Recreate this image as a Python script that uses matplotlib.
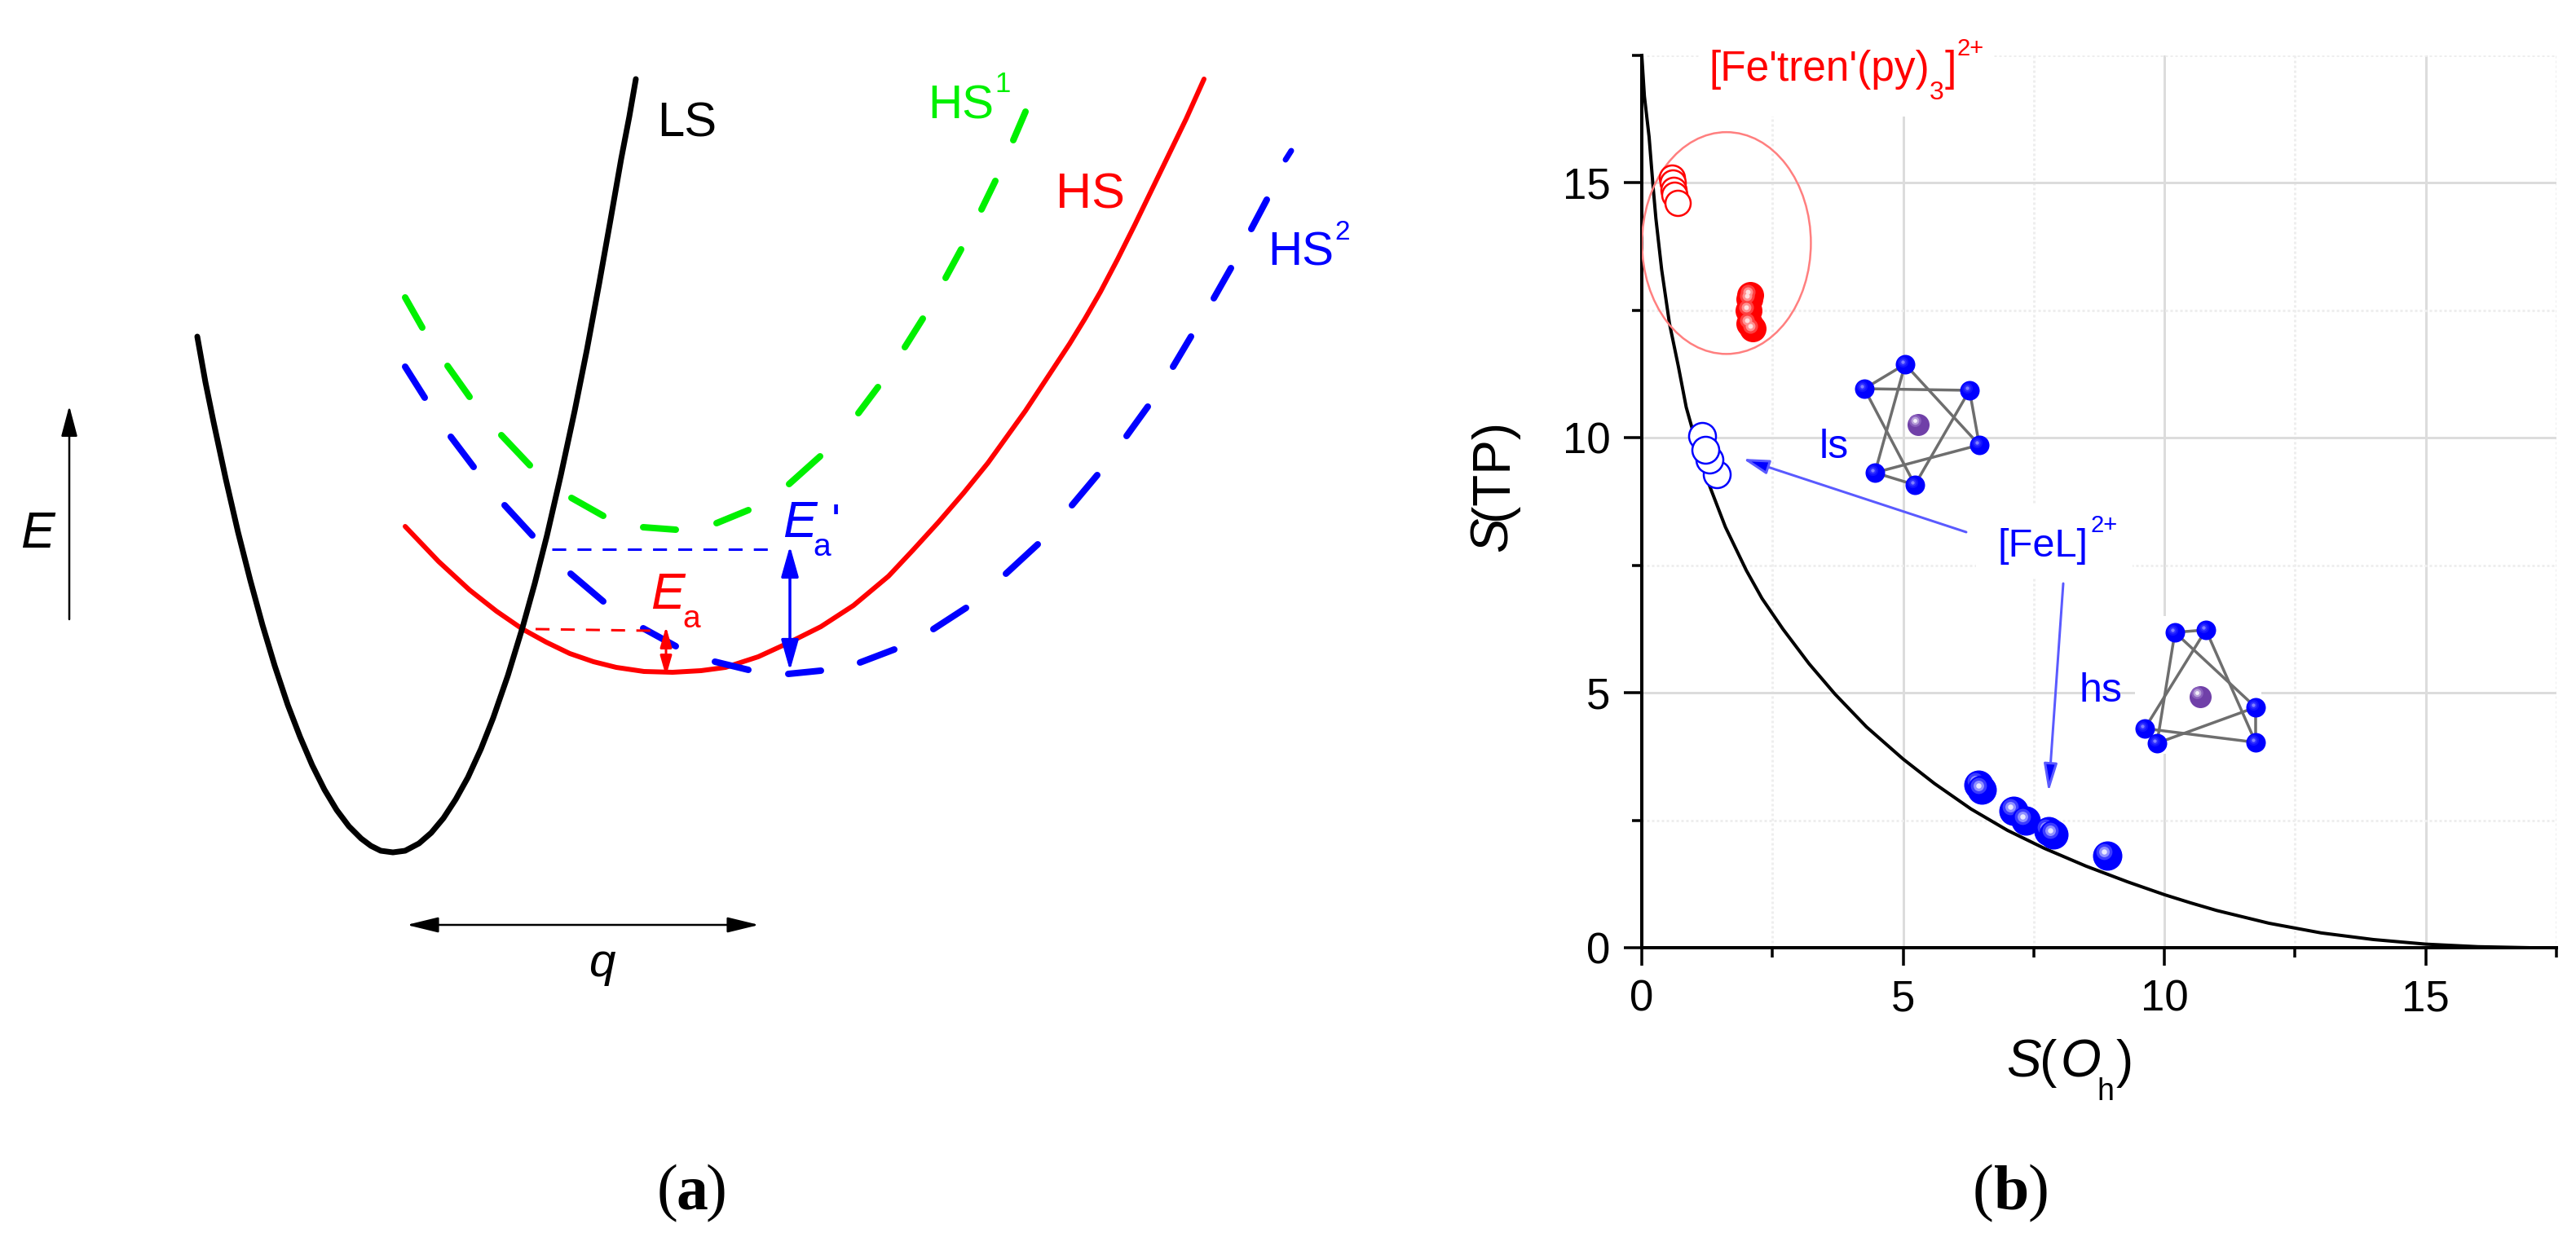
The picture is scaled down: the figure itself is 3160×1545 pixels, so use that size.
#!/usr/bin/env python3
# potential energy sketch (a) and shape map S(TP) vs S(Oh) (b)
import matplotlib
matplotlib.use('Agg')
import matplotlib.pyplot as plt
from matplotlib.patches import Ellipse, Rectangle

plt.rcParams['font.family'] = ['Liberation Sans', 'DejaVu Sans']

ls_x = [242, 252, 262, 277, 292, 307, 322, 337, 353, 368, 383, 398, 413, 428, 443, 455, 467, 482,
        497, 514, 529, 544, 559, 574, 590, 605, 623, 641, 656, 671, 688, 705, 720, 735, 748, 762, 772, 780]
ls_y = [413, 469, 518, 588, 653, 712, 767, 817, 865, 904, 939, 969, 994, 1014, 1029, 1038, 1044, 1046,
        1044, 1035, 1022, 1004, 981, 954, 919, 881, 829, 770, 716, 657, 583, 504, 429, 348, 275, 195, 143, 97]
hs_x = [497, 538, 576, 609, 641, 670, 699, 728, 756, 790, 825, 860, 890, 930, 967, 1007, 1047, 1090, 1120,
        1151, 1182, 1212, 1258, 1285, 1312, 1331, 1350, 1371, 1392, 1423, 1455, 1477]
hs_y = [646, 689, 724, 750, 772, 788, 802, 812, 819, 824, 825, 823, 819, 806, 789, 769, 743, 707, 675,
        641, 605, 568, 504, 463, 422, 391, 358, 318, 276, 212, 146, 97]
# dashed curves as pairs of dash ends
hs1_x = [497, 518, 549, 576, 615, 650, 701, 740, 789, 829, 879, 918, 968, 1006, 1053, 1077,
         1110, 1132, 1160, 1179, 1204, 1221, 1243, 1258]
hs1_y = [365, 402, 449, 487, 534, 571, 611, 633, 647, 650, 642, 626, 594, 560, 507, 475,
         426, 391, 341, 306, 257, 222, 172, 137]
hs2_x = [497, 521, 553, 581, 619, 653, 700, 740, 789, 829, 877, 918, 967, 1007, 1055, 1097,
         1145, 1185, 1234, 1273, 1315, 1346, 1382, 1408, 1439, 1461, 1489, 1510, 1535, 1554, 1577, 1584]
hs2_y = [450, 488, 536, 573, 620, 657, 704, 738, 771, 793, 812, 822, 827, 823, 813, 797,
         772, 746, 704, 668, 620, 583, 535, 499, 450, 413, 366, 329, 281, 245, 196, 185]

# panel (b)
curve_x = [0, .05, .14, .21, .27, .38, .53, .7, .85, 1, 1.3, 1.6, 2, 2.3, 2.7, 3.2, 3.7, 4.3, 5, 5.6,
           6.3, 7, 7.7, 8.5, 9.3, 10, 10.5, 11, 12, 13, 14, 15, 16, 17, 17.5]
curve_y = [17.5, 16.7, 15.9, 15.0, 14.3, 13.3, 12.24, 11.4, 10.6, 10.05, 9.05, 8.25, 7.4, 6.85, 6.25, 5.57,
           4.97, 4.33, 3.7, 3.22, 2.72, 2.3, 1.95, 1.6, 1.29, 1.04, .88, .73, .48, .29, .16, .07, .02, 0, 0]
red_open_x = [.57, .59, .61, .63, .69]
red_open_y = [15.1, 15.0, 14.87, 14.77, 14.6]
red_full_x = [2.08, 2.06, 2.05, 2.06, 2.12]
red_full_y = [12.8, 12.72, 12.5, 12.24, 12.14]
blue_open_x = [1.44, 1.30, 1.16, 1.22]
blue_open_y = [9.28, 9.58, 10.03, 9.76]
blue_full_x = [6.44, 6.5, 7.11, 7.34, 7.78, 7.88, 8.9]
blue_full_y = [3.19, 3.1, 2.68, 2.49, 2.28, 2.22, 1.8]
major_ticks = [0, 5, 10, 15]
minor_ticks = [2.5, 7.5, 12.5, 17.5]

# the two molecule insets, picture pixels
ls_atom_x = [2337, 2287, 2416, 2428, 2300, 2349]
ls_atom_y = [447, 477, 479, 546, 580, 595]
ls_bonds = [(0, 1), (1, 2), (0, 3), (2, 3), (0, 4), (1, 5), (2, 5), (3, 4), (4, 5)]
hs_atom_x = [2668, 2706, 2767, 2767, 2631, 2646]
hs_atom_y = [776, 773, 868, 911, 894, 912]
hs_bonds = [(0, 1), (0, 5), (1, 4), (0, 2), (1, 3), (2, 3), (2, 5), (4, 3), (4, 5)]
metal_x = [2353, 2699]
metal_y = [521, 855]

W, H = 3160, 1545
PT = 0.72   # points per pixel at dpi 100
RED, GREEN, BLUE = '#ff0000', '#00f000', '#0000ff'

fig = plt.figure(figsize=(W / 100, H / 100), dpi=100, facecolor='white')

# ---- panel (b) axes
ax = fig.add_axes([2014 / W, (H - 1163) / H, 1122 / W, 1095 / H])
ax.set_xlim(0, 17.5)
ax.set_ylim(0, 17.5)
for s in ('top', 'right'):
    ax.spines[s].set_visible(False)
for s in ('left', 'bottom'):
    ax.spines[s].set_linewidth(4 * PT)
ax.set_xticks(major_ticks)
ax.set_yticks(major_ticks)
ax.set_xticks(minor_ticks, minor=True)
ax.set_yticks(minor_ticks, minor=True)
ax.tick_params(which='major', length=22 * PT, width=3.5 * PT, labelsize=38, pad=12)
ax.tick_params(which='minor', length=12 * PT, width=3.5 * PT)
ax.set_axisbelow(True)
ax.grid(which='major', color='#dcdcdc', lw=3 * PT)
ax.grid(which='minor', color='#eeeeee', lw=3 * PT, ls=(0, (1, 1)))
ax.plot(curve_x, curve_y, color='black', lw=4 * PT, clip_on=False, zorder=2)

ax.add_patch(Ellipse((1.62, 13.82), 3.23, 4.35, fc='none', ec='#ff7f7f', lw=2.5 * PT, zorder=3))


def balls(a, x, y, size, dx, dy, colors, zorder=4):
    # base ball with a soft highlight towards the upper left
    a.scatter(x, y, s=(size * PT) ** 2, color=colors[0], lw=0, zorder=zorder, clip_on=False)
    hx = [v + dx for v in x]
    hy = [v + dy for v in y]
    for i, (f, c) in enumerate(zip((.55, .36, .18), colors[1:])):
        a.scatter(hx, hy, s=(size * f * PT) ** 2, color=c, lw=0, zorder=zorder + 0.1 + i * 0.1, clip_on=False)


ax.scatter(red_open_x, red_open_y, s=(31 * PT) ** 2, fc='white', ec=RED, lw=2.5 * PT, zorder=4)
ax.scatter(blue_open_x, blue_open_y, s=(33 * PT) ** 2, fc='white', ec=BLUE, lw=2.5 * PT, zorder=4)
balls(ax, red_full_x, red_full_y, 33, -.05, .06, [RED, '#ff4040', '#ff9090', '#ffe0e0'])
for i in range(len(blue_full_x)):
    balls(ax, blue_full_x[i:i + 1], blue_full_y[i:i + 1], 36, -.06, .08,
          [BLUE, '#3c3cff', '#9090ff', '#e8e8ff'], zorder=4 + i)

# ---- full picture overlay for panel (a), labels and insets
ov = fig.add_axes([0, 0, 1, 1])
ov.set_xlim(0, W)
ov.set_ylim(H, 0)
ov.axis('off')

# white boxes behind labels and the inset hide the grid, as in the source
for (x0, y0, w, h) in [(2085, 30, 360, 113), (2424, 620, 192, 88), (2619, 756, 155, 169)]:
    ov.add_patch(Rectangle((x0, y0), w, h, fc='white', ec='none', zorder=0))

ov.plot(ls_x, ls_y, color='black', lw=7 * PT, solid_capstyle='round', solid_joinstyle='round', zorder=3)
ov.plot(hs_x, hs_y, color=RED, lw=6 * PT, solid_capstyle='round', solid_joinstyle='round', zorder=2)
for i in range(0, len(hs1_x), 2):
    ov.plot(hs1_x[i:i + 2], hs1_y[i:i + 2], color=GREEN, lw=8 * PT, solid_capstyle='round', zorder=2)
for i in range(0, len(hs2_x), 2):
    lw = 8 if i < len(hs2_x) - 2 else 7
    ov.plot(hs2_x[i:i + 2], hs2_y[i:i + 2], color=BLUE, lw=lw * PT, solid_capstyle='round', zorder=2.5)

ov.plot([677, 943], [674, 674], color=BLUE, lw=3 * PT, ls=(0, (5.7, 4.6)), zorder=2)
ov.plot([657, 798], [772, 774], color=RED, lw=3 * PT, ls=(0, (5.7, 4.6)), zorder=4)


def arrow(p0, p1, color, lw, hl, hw, style='-|>', fc=None):
    # hl, hw in pixels: head length and full head width
    st = '%s,head_length=%.1f,head_width=%.1f' % (style, hl * PT, hw * PT / 2)
    ov.annotate('', xy=p1, xytext=p0, zorder=5,
                arrowprops=dict(arrowstyle=st, mutation_scale=1, shrinkA=0, shrinkB=0,
                                lw=lw * PT, ec=color, fc=fc or color))


arrow((969, 670), (969, 823), BLUE, 3.5, 32, 18, '<|-|>')
arrow((817, 769), (817, 830), RED, 3, 21, 12, '<|-|>')
arrow((85, 760), (85, 498), 'black', 2.5, 32, 17)
arrow((499, 1135), (931, 1135), 'black', 2.5, 33, 16, '<|-|>')
arrow((2412, 653), (2138, 563), '#5a5aff', 3, 27, 15, fc=BLUE)
arrow((2531, 716), (2513, 972), '#5a5aff', 3, 29, 14, fc=BLUE)

# molecule insets
for ax_, ay_, bonds in [(ls_atom_x, ls_atom_y, ls_bonds), (hs_atom_x, hs_atom_y, hs_bonds)]:
    for a, b in bonds:
        ov.plot([ax_[a], ax_[b]], [ay_[a], ay_[b]], color='#6e6e6e', lw=3.5 * PT, zorder=6)
    balls(ov, ax_, ay_, 24, -3, -3, [BLUE, '#1414ff', '#3030ff', '#8080ff'], zorder=7)
balls(ov, metal_x, metal_y, 27, -4, -5, ['#7040a8', '#8a60bc', '#b8a0d8', '#f4f0fa'], zorder=7)


def txt(x, y, s, size, color='black', style='normal', **kw):
    ov.text(x, y, s, fontsize=size, color=color, style=style, ha='left', va='baseline', zorder=8, **kw)


# panel (a) labels
txt(806, 167, 'LS', 43)
txt(1138, 145, 'HS', 42, GREEN)
txt(1220, 113, '1', 25, GREEN)
txt(1295, 256, 'HS', 44, RED)
txt(1555, 326, 'HS', 42, BLUE)
txt(1637, 294, '2', 24, BLUE)
txt(25, 672, 'E', 45, style='italic')
txt(798, 747, 'E', 45, RED, 'italic')
txt(837, 770, 'a', 28, RED)
txt(960, 659, 'E', 45, BLUE, 'italic')
txt(997, 682, 'a', 28, BLUE)
txt(1020, 659, "'", 42, BLUE)
txt(722, 1198, 'q', 42, style='italic')

# panel (b) labels
txt(2096, 99, "[Fe'tren'(py)", 37, RED)
txt(2367, 122, '3', 23, RED)
txt(2386, 99, ']', 37, RED)
txt(2400, 68, '2+', 21, RED)
txt(2450, 683, '[FeL]', 35, BLUE)
txt(2565, 653, '2+', 21, BLUE)
txt(2232, 562, 'ls', 36, BLUE)
txt(2550, 861, 'hs', 36, BLUE)

txt(2461, 1322, 'S', 46, style='italic')
txt(2502, 1322, '(', 46)
txt(2528, 1322, 'O', 46, style='italic')
txt(2572, 1350, 'h', 27)
txt(2596, 1322, ')', 46)

ov.text(1862, 677, 'S', fontsize=46, style='italic', rotation=90, ha='left', va='bottom',
        rotation_mode='anchor', zorder=8)
ov.text(1862, 638, '(TP)', fontsize=46, rotation=90, ha='left', va='bottom',
        rotation_mode='anchor', zorder=8)

# panel letters
for x, s, w in [(806, '(', 'normal'), (829, 'a', 'bold'), (865, ')', 'normal'),
                (2420, '(', 'normal'), (2446, 'b', 'bold'), (2487, ')', 'normal')]:
    ov.text(x, 1483, s, fontsize=56, family='Liberation Serif', weight=w, ha='left', va='baseline', zorder=8)

fig.savefig('out.png', dpi=100, facecolor='white')
